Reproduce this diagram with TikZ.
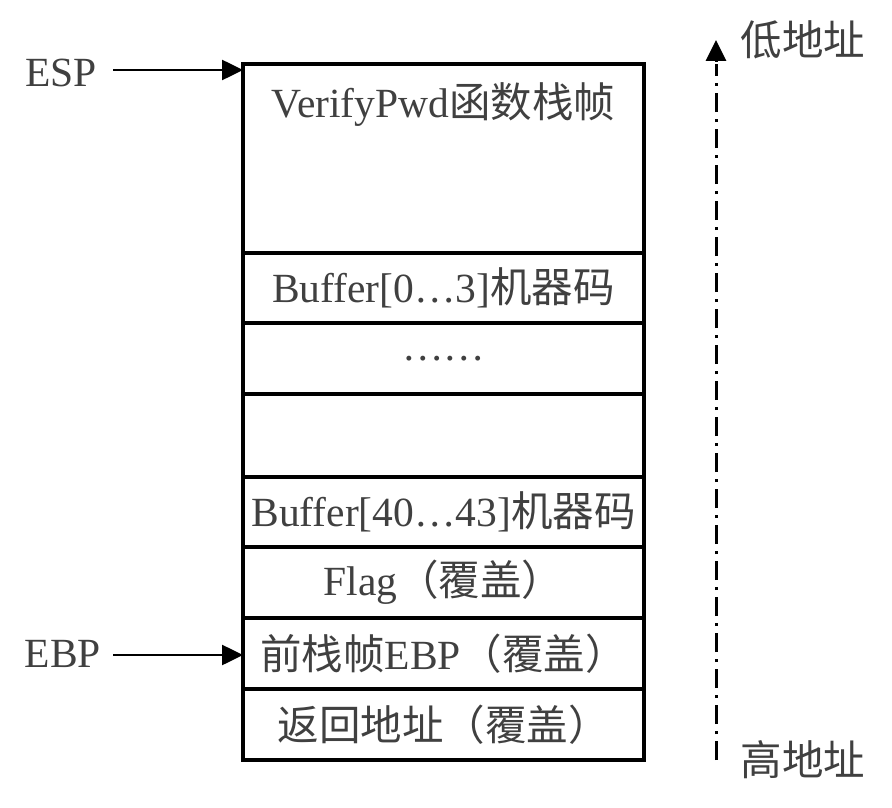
\documentclass[tikz,border=0pt]{standalone}
\usepackage{fontspec}
\setmainfont{Liberation Serif}
\newfontfamily\cjkfont{Noto Sans CJK SC}
\newcommand\zh[1]{{\cjkfont #1}}
\usetikzlibrary{arrows.meta}
\definecolor{txt}{HTML}{404040}
\begin{document}
\begin{tikzpicture}[x=1pt,y=-1pt,
  cell/.style={draw=black,line width=3.4pt,minimum width=401pt,inner sep=0pt,outer sep=0pt,
    text=txt,font=\fontsize{41.5}{48}\selectfont},
  lbl/.style={text=txt,font=\fontsize{41.5}{48}\selectfont,inner sep=0pt},
  ptr/.style={-{Triangle[length=21pt,width=20pt]},line width=2.6pt}]
\useasboundingbox (0,0) rectangle (892,808);
\node[cell,minimum height=189pt] (r1) at (443.5,158.5) {};
\node[lbl,anchor=center] (t1) at (443.5,105) {VerifyPwd\zh{函数栈帧}};
\node[cell,minimum height=70pt] (r2) at (443.5,288) {Buffer[0…3]\zh{机器码}};
\node[cell,minimum height=71pt] (r3) at (443.5,358.5) {……};
\node[cell,minimum height=83pt] (r4) at (443.5,435.5) {};
\node[cell,minimum height=70pt] (r5) at (443.5,512) {Buffer[40…43]\zh{机器码}};
\node[cell,minimum height=71pt] (r6) at (443.5,582.5) {Flag\zh{（覆盖）}};
\node[cell,minimum height=71pt] (r7) at (443.5,653.5) {\zh{前栈帧}EBP\zh{（覆盖）}};
\node[cell,minimum height=71pt] (r8) at (443.5,724.5) {\zh{返回地址（覆盖）}};
\node[lbl] (esp) at (61,73) {ESP};
\node[lbl] (ebp) at (63,654) {EBP};
\coordinate (espa) at (113,70);
\coordinate (ebpa) at (113,655);
\draw[ptr] (espa) -- (espa -| r1.west);
\draw[ptr] (ebpa) -- (ebpa -| r7.west);
\node[lbl,font=\cjkfont\fontsize{41.5}{48}\selectfont] (low) at (803,40) {低地址};
\node[lbl,font=\cjkfont\fontsize{41.5}{48}\selectfont] (high) at (803,760) {高地址};
\coordinate (abot) at (716,760);
\coordinate (atop) at (716,40);
\draw[line width=3pt,dash pattern=on 19pt off 7pt on 3pt off 7pt] (abot) -- (716,64);
\draw[-{Triangle[length=21pt,width=20pt]},line width=3pt] (716,62) -- (atop);
\end{tikzpicture}
\end{document}
